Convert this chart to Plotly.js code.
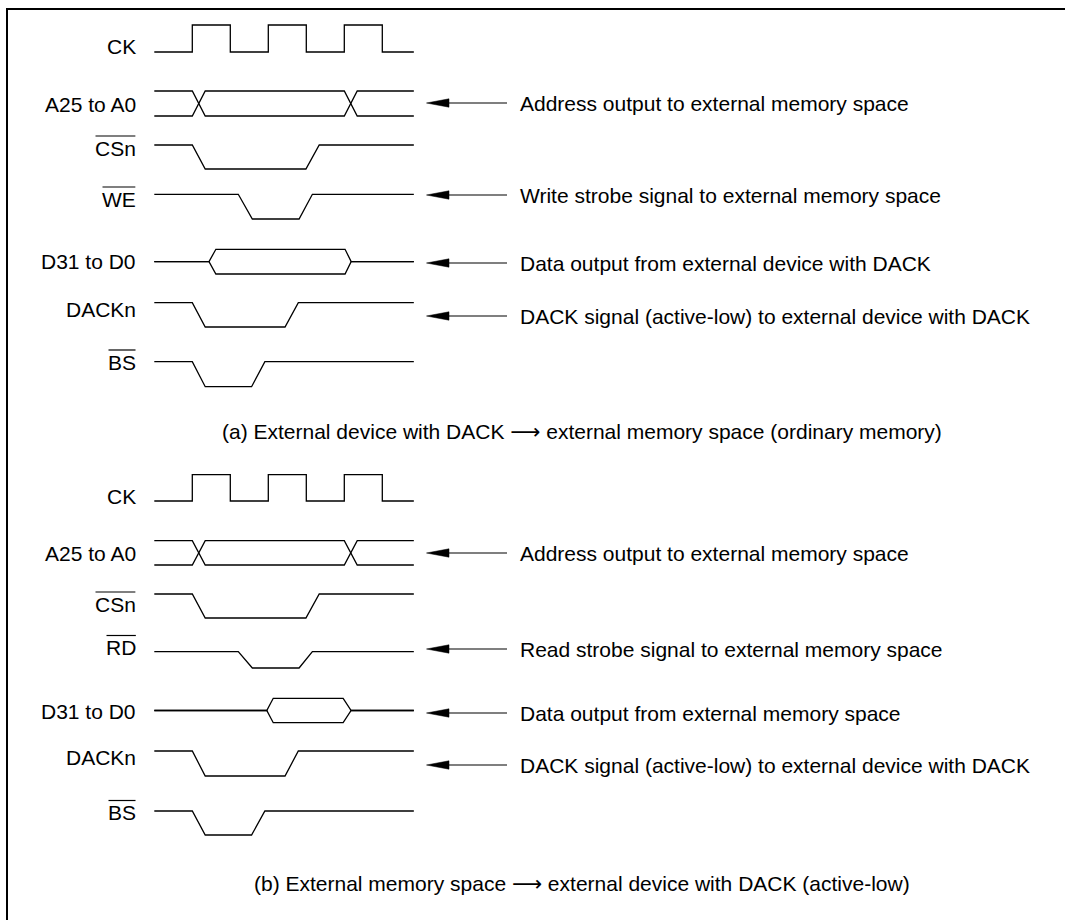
<!DOCTYPE html>
<html><head><meta charset="utf-8">
<script src="https://cdn.plot.ly/plotly-3.0.1.min.js"></script>
<style>html,body{margin:0;padding:0;background:#fff}#chart{width:1065px;height:920px}</style>
</head><body><div id="chart"></div>
<script>
// ---------------- DATA (times in half clock periods, levels 1 = high, 0 = low) ----------------
const ckTimes   = [0, 1, 1, 2, 2, 3, 3, 4, 4, 5, 5, 6, 6, 6.83];
const ckLevels  = [0, 0, 1, 1, 0, 0, 1, 1, 0, 0, 1, 1, 0, 0];
const addrTimes = [0, 1.0, 1.34, 5.0, 5.34, 6.83];
const addrUpper = [1, 1, 0, 0, 1, 1];
const addrLower = [0, 0, 1, 1, 0, 0];
const csTimes   = [0, 1.0, 1.34, 3.99, 4.34, 6.83];
const csLevels  = [1, 1, 0, 0, 1, 1];
const strobeTimes  = [0, 2.21, 2.58, 3.81, 4.16, 6.83];   // WE (a) / RD (b)
const strobeLevels = [1, 1, 0, 0, 1, 1];
const dataTimesA = [0, 1.44, 1.62, 5.02, 5.18, 6.83];
const dataTimesB = [0, 2.96, 3.13, 4.97, 5.18, 6.83];
const dataUpper  = [0.5, 0.5, 1, 1, 0.5, 0.5];
const dataLower  = [0.5, 0.5, 0, 0, 0.5, 0.5];
const dackTimes  = [0, 1.0, 1.34, 3.44, 3.79, 6.83];
const dackLevels = [1, 1, 0, 0, 1, 1];
const bsTimes    = [0, 1.0, 1.34, 2.56, 2.91, 6.83];
const bsLevels   = [1, 1, 0, 0, 1, 1];

const signalNamesA = ['CK', 'A25 to A0', 'CSn', 'WE', 'D31 to D0', 'DACKn', 'BS'];
const signalNamesB = ['CK', 'A25 to A0', 'CSn', 'RD', 'D31 to D0', 'DACKn', 'BS'];
const overlinedNames = ['CSn', 'WE', 'RD', 'BS'];
const notesA = ['Address output to external memory space',
                'Write strobe signal to external memory space',
                'Data output from external device with DACK',
                'DACK signal (active-low) to external device with DACK'];
const notesB = ['Address output to external memory space',
                'Read strobe signal to external memory space',
                'Data output from external memory space',
                'DACK signal (active-low) to external device with DACK'];
const ARROW = '<span style="font-family:\'DejaVu Sans\'">\u27F6</span>';
const captions = ['(a) External device with DACK ' + ARROW + ' external memory space (ordinary memory)',
                  '(b) External memory space ' + ARROW + ' external device with DACK (active-low)'];

// ---------------- LAYOUT GEOMETRY (pixels) ----------------
const W = 1065, H = 920, X0 = 154.3, UNIT = 38;
const rowGeomA = [[25,52],[91,116],[145,169],[194.3,219],[249.3,274],[302.7,327],[361.7,386.7]];
const rowGeomB = [[474.7,501],[540.7,565],[594,618],[651.7,668],[698.3,722.7],[751,776],[811,835]];
const labelYA = [46,104,148,199,261,309,362];
const labelYB = [496,553,604,647.5,711,757.5,812.5];
const noteYA = [103,195,263,316];
const noteYB = [553,649,713,765];
const captionY = [432, 884];
const FONT = 'Liberation Sans, Arial, Helvetica, sans-serif';
const LINE = {color:'#000', width:1.3};

const traces = [];
function wave(times, levels, geom){
  const hi = geom[0], lo = geom[1];
  traces.push({type:'scatter', mode:'lines', x: times, y: levels.map(l => lo - l*(lo-hi)),
    line: LINE, hoverinfo:'skip', showlegend:false});
}
function panel(rows, dataTimes){
  wave(ckTimes, ckLevels, rows[0]);
  wave(addrTimes, addrUpper, rows[1]);
  wave(addrTimes, addrLower, rows[1]);
  wave(csTimes, csLevels, rows[2]);
  wave(strobeTimes, strobeLevels, rows[3]);
  wave(dataTimes, dataUpper, rows[4]);
  wave(dataTimes, dataLower, rows[4]);
  wave(dackTimes, dackLevels, rows[5]);
  wave(bsTimes, bsLevels, rows[6]);
}
panel(rowGeomA, dataTimesA);
panel(rowGeomB, dataTimesB);

const px = x => x / W;
const annotations = [];
const shapes = [];
const overlineTargets = [];
// frame
shapes.push({type:'line', xref:'paper', yref:'y', x0:px(7), x1:px(7), y0:8, y1:H, line:{color:'#000', width:2}});
shapes.push({type:'line', xref:'paper', yref:'y', x0:px(6), x1:1, y0:9, y1:9, line:{color:'#000', width:2}});

function labels(names, ys){
  names.forEach((n, i) => {
    annotations.push({xref:'paper', yref:'y', x:px(137.5), y:ys[i], xanchor:'right', yanchor:'middle',
      text:n, showarrow:false, font:{family:FONT, size:21, color:'#000'}});
    if (overlinedNames.includes(n)) overlineTargets.push({idx: annotations.length-1, y: ys[i] - 12});
  });
}
labels(signalNamesA, labelYA);
labels(signalNamesB, labelYB);

function notes(texts, ys){
  texts.forEach((t, i) => {
    const y = ys[i];
    annotations.push({xref:'paper', yref:'y', x:px(518), y:y, xanchor:'left', yanchor:'middle',
      text:t, showarrow:false, font:{family:FONT, size:21, color:'#000'}});
    shapes.push({type:'line', xref:'paper', yref:'y', x0:px(447), x1:px(507), y0:y, y1:y, line:{color:'#000', width:1.2}});
    shapes.push({type:'path', xref:'paper', yref:'y', path:`M ${px(426.5)} ${y} L ${px(449)} ${y-4.2} L ${px(449)} ${y+4.2} Z`,
      fillcolor:'#000', line:{color:'#000', width:0.5}});
  });
}
notes(notesA, noteYA);
notes(notesB, noteYB);

captions.forEach((c, i) => {
  annotations.push({xref:'paper', yref:'y', x:px(582), y:captionY[i], xanchor:'center', yanchor:'middle',
    text:c, showarrow:false, font:{family:FONT, size:21, color:'#000'}});
});

const layout = {
  width:W, height:H, margin:{l:0,r:0,t:0,b:0}, paper_bgcolor:'#fff', plot_bgcolor:'#fff',
  xaxis:{range:[-X0/UNIT, (W-X0)/UNIT], visible:false, fixedrange:true},
  yaxis:{range:[H, 0], visible:false, fixedrange:true},
  showlegend:false, annotations, shapes
};

const gd = document.getElementById('chart');
Plotly.newPlot(gd, traces, layout, {staticPlot:true, displayModeBar:false}).then(() => {
  const gr = gd.getBoundingClientRect();
  const extra = [];
  overlineTargets.forEach(t => {
    const el = gd.querySelector(`.annotation[data-index="${t.idx}"] text`);
    if (!el) return;
    const r = el.getBoundingClientRect();
    extra.push({type:'line', xref:'paper', yref:'y', x0:(r.left-gr.left+0.5)/W, x1:(r.right-gr.left-0.5)/W,
      y0:t.y, y1:t.y, line:{color:'#000', width:1.2}});
  });
  return Plotly.relayout(gd, {shapes: shapes.concat(extra)});
});
</script></body></html>
